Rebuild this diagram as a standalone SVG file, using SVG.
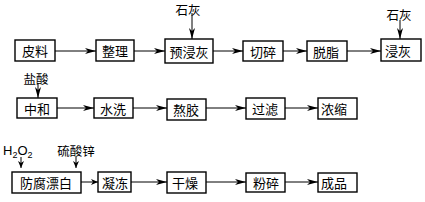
<svg xmlns="http://www.w3.org/2000/svg" width="425" height="202" viewBox="0 0 425 202">
<style>
.box{fill:#fff;stroke:#000;stroke-width:1.4}
.t{font-family:"Noto Sans CJK SC","Liberation Serif",sans-serif;font-size:13px;fill:#000;text-anchor:middle;dominant-baseline:central}
.lbl{font-family:"Noto Sans CJK SC",sans-serif;font-size:12.5px;fill:#000;text-anchor:middle;dominant-baseline:central}
.e{fill:none;stroke:#000;stroke-width:1}
</style>
<defs>
<marker id="ah" markerWidth="12" markerHeight="8" refX="11" refY="4" orient="auto" markerUnits="userSpaceOnUse">
<path d="M0,1 L11,4 L0,7 L3,4 Z" fill="#000"/>
</marker>
<marker id="as" markerWidth="8" markerHeight="8" refX="7" refY="4" orient="auto" markerUnits="userSpaceOnUse">
<path d="M0,1 L7,4 L0,7 L2,4 Z" fill="#000"/>
</marker>
</defs>
<g id="connectors">
<path class="e" d="M55,51 H96" marker-end="url(#ah)"/>
<path class="e" d="M134,51 H165" marker-end="url(#ah)"/>
<path class="e" d="M192,13 V39" marker-end="url(#ah)"/>
<path class="e" d="M213,51 H243" marker-end="url(#ah)"/>
<path class="e" d="M283,51 H307" marker-end="url(#ah)"/>
<path class="e" d="M347,51 H381" marker-end="url(#ah)"/>
<path class="e" d="M400,20 V39" marker-end="url(#ah)"/>
<path class="e" d="M38,83 V98" marker-end="url(#ah)"/>
<path class="e" d="M57,108 H94" marker-end="url(#ah)"/>
<path class="e" d="M133,108 H167" marker-end="url(#ah)"/>
<path class="e" d="M206,108 H246" marker-end="url(#ah)"/>
<path class="e" d="M285,108 H318" marker-end="url(#ah)"/>
<path class="e" d="M21,157 V168" marker-end="url(#as)"/>
<path class="e" d="M76,157 V168" marker-end="url(#as)"/>
<path class="e" d="M81,182 H98" marker-end="url(#as)"/>
<path class="e" d="M131,182 H167" marker-end="url(#ah)"/>
<path class="e" d="M206,182 H246" marker-end="url(#ah)"/>
<path class="e" d="M285,182 H318" marker-end="url(#ah)"/>
</g>
<g id="n1"><rect class="box" x="15" y="40" width="40" height="21"/><text class="t" x="35" y="50.5">皮料</text></g>
<g id="n2"><rect class="box" x="96" y="40" width="38" height="21"/><text class="t" x="115" y="50.5">整理</text></g>
<g id="n3"><rect class="box" x="165" y="39" width="48" height="24"/><text class="t" x="189" y="51">预浸灰</text></g>
<g id="n4"><rect class="box" x="243" y="41" width="40" height="20"/><text class="t" x="263" y="51">切碎</text></g>
<g id="n5"><rect class="box" x="307" y="41" width="40" height="20"/><text class="t" x="326" y="51">脱脂</text></g>
<g id="n6"><rect class="box" x="381" y="39" width="40" height="22"/><text class="t" x="398" y="50">浸灰</text></g>
<g id="l1"><text class="lbl" x="188" y="9">石灰</text></g>
<g id="l2"><text class="lbl" x="399" y="14">石灰</text></g>
<g id="n7"><rect class="box" x="17" y="98" width="40" height="20"/><text class="t" x="37" y="108">中和</text></g>
<g id="n8"><rect class="box" x="94" y="98" width="39" height="20"/><text class="t" x="113" y="108">水洗</text></g>
<g id="n9"><rect class="box" x="167" y="99" width="39" height="21"/><text class="t" x="186" y="109.5">熬胶</text></g>
<g id="n10"><rect class="box" x="246" y="98" width="39" height="21"/><text class="t" x="265" y="108.5">过滤</text></g>
<g id="n11"><rect class="box" x="318" y="98" width="39" height="21"/><text class="t" x="334" y="108.5">浓缩</text></g>
<g id="l3"><text class="lbl" x="36" y="78">盐酸</text></g>
<g id="n12"><rect class="box" x="12" y="172" width="69" height="21"/><text class="t" x="46" y="182.5">防腐漂白</text></g>
<g id="n13"><rect class="box" x="98" y="172" width="33" height="20"/><text class="t" x="115" y="182">凝冻</text></g>
<g id="n14"><rect class="box" x="167" y="172" width="39" height="21"/><text class="t" x="185" y="182.5">干燥</text></g>
<g id="n15"><rect class="box" x="246" y="173" width="39" height="19"/><text class="t" x="266" y="182.5">粉碎</text></g>
<g id="n16"><rect class="box" x="318" y="173" width="39" height="19"/><text class="t" x="334" y="182.5">成品</text></g>
<g id="l4"><text x="3" y="155" font-family="Liberation Sans,sans-serif" font-size="13" fill="#000">H<tspan font-size="9" dy="3">2</tspan><tspan dy="-3">O</tspan><tspan font-size="9" dy="3">2</tspan></text></g>
<g id="l5"><text class="lbl" x="76" y="150">硫酸锌</text></g>
</svg>
